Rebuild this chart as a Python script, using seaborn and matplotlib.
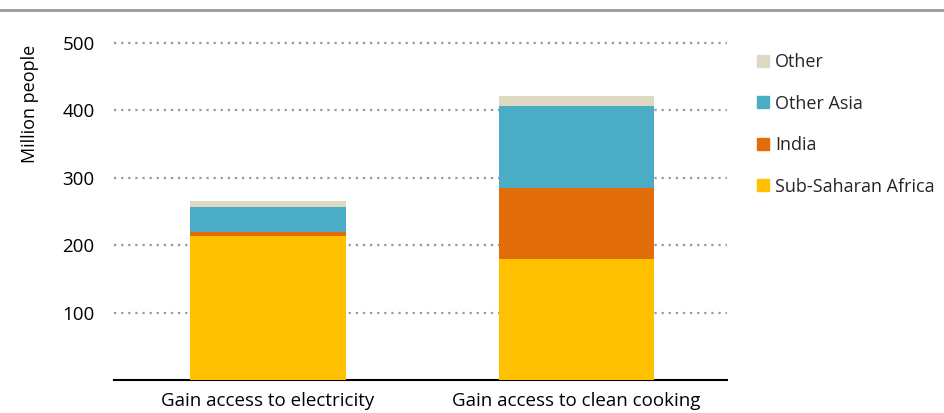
import matplotlib
matplotlib.use("Agg")
import matplotlib.pyplot as plt
import matplotlib.patches as mpatches
from matplotlib.lines import Line2D
import seaborn as sns
import numpy as np
import pandas as pd

# data (million people)
categories = ["Gain access to electricity", "Gain access to clean cooking"]
sub_saharan = [213, 179]
india = [7, 106]
other_asia = [37, 121]
other = [8, 15]

series = ["Sub-Saharan Africa", "India", "Other Asia", "Other"]
colors = ["#FFC000", "#E36C0A", "#4BACC6", "#DDD9C3"]

sns.set_theme(style="white")
plt.rcParams["font.family"] = ["Open Sans", "DejaVu Sans"]

fig = plt.figure(figsize=(9.45, 4.13), dpi=100)
ax = fig.add_axes([114 / 945, 1 - 380 / 413, 613 / 945, 351 / 413])

vals = np.array([sub_saharan, india, other_asia, other])
cum = vals.cumsum(axis=0)
df = pd.DataFrame({"cat": categories})

# draw from the top of the stack down so lower segments sit on top
for i in range(len(series) - 1, -1, -1):
    df["v"] = cum[i]
    sns.barplot(data=df, x="cat", y="v", color=colors[i], width=0.505,
                saturation=1, linewidth=0, ax=ax, zorder=3)

ax.set_ylim(0, 520)
ax.set_xlim(-0.499, 1.488)
ax.set_yticks([100, 200, 300, 400, 500])
ax.yaxis.grid(True, linestyle=(0, (1, 2.2)), color="#999999", linewidth=1.6, zorder=0)
ax.set_axisbelow(True)
for s in ["top", "right", "left"]:
    ax.spines[s].set_visible(False)
ax.spines["bottom"].set_color("#000000")
ax.spines["bottom"].set_linewidth(1.5)
ax.tick_params(axis="both", length=0, labelsize=13.5, colors="#000000")
ax.tick_params(axis="y", pad=14)
ax.tick_params(axis="x", pad=9)
ax.set_xlabel("")
ax.set_ylabel("Million people", fontsize=13, color="#000000")
ax.yaxis.set_label_coords(-0.122, 0.786)

handles = [mpatches.Patch(color=colors[i], label=series[i]) for i in range(3, -1, -1)]
fig.legend(handles=handles, loc="upper left", bbox_to_anchor=(750 / 945, 1 - 46 / 413),
           frameon=False, fontsize=13, handlelength=0.65, handleheight=0.65,
           handletextpad=0.35, labelspacing=1.3, borderaxespad=0)

# top rule
fig.add_artist(Line2D([0, 1], [1 - 10 / 413, 1 - 10 / 413], color="#999999",
                      linewidth=2, transform=fig.transFigure))

fig.savefig("out.png", dpi=100)
